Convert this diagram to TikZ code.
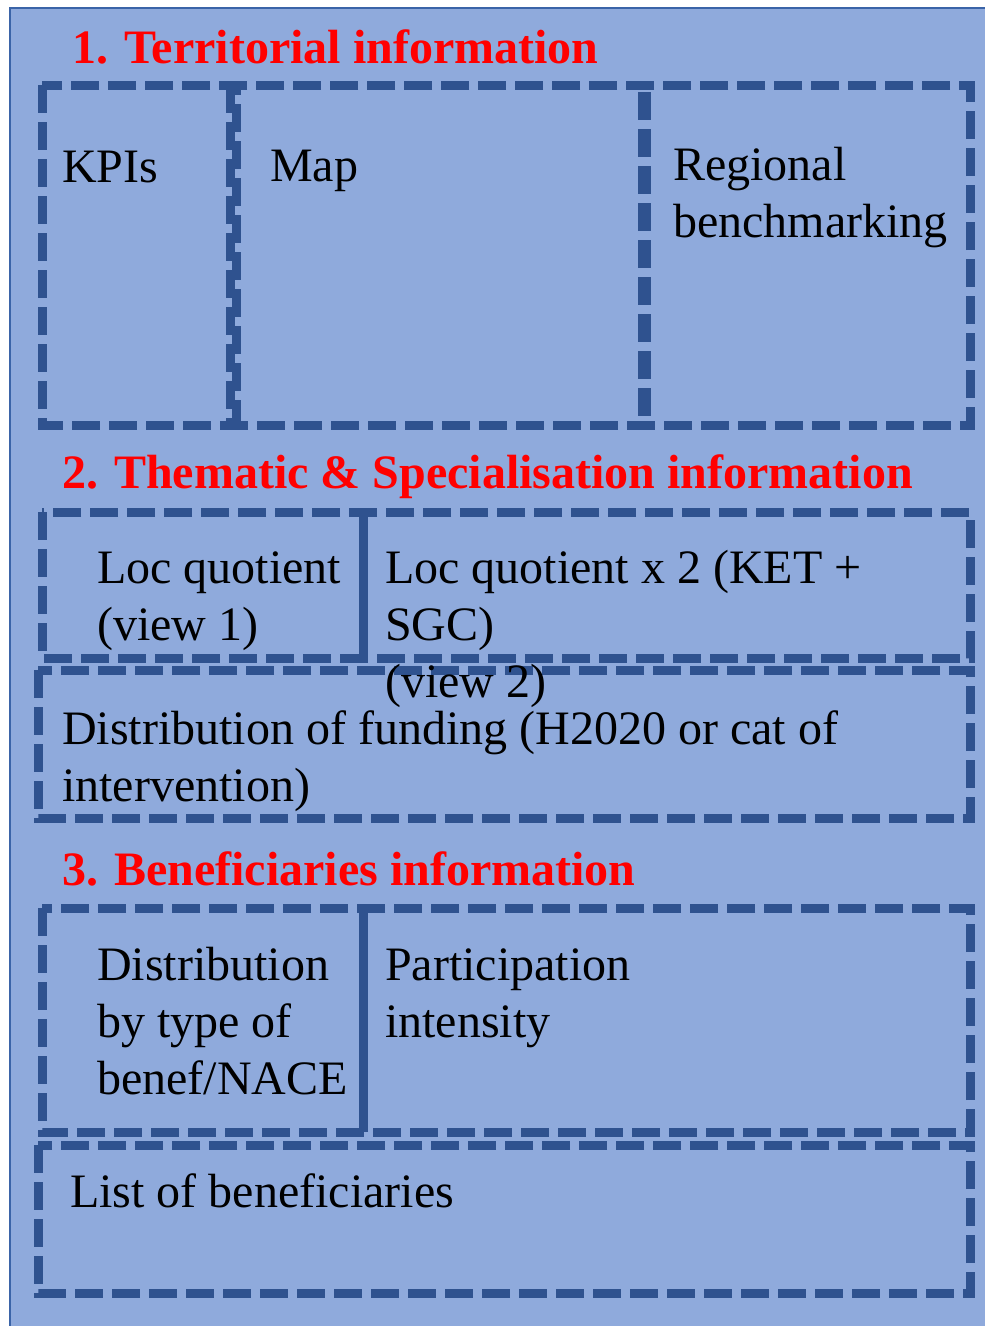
\documentclass[tikz,border=0pt]{standalone}
\usepackage{fontspec}
\setmainfont{Liberation Serif}
\usepackage{tikz}
\usetikzlibrary{positioning}
\definecolor{panel}{RGB}{143,170,220}
\definecolor{frame}{RGB}{59,100,168}
\definecolor{dashc}{RGB}{47,82,143}
\definecolor{headred}{RGB}{255,0,0}

\tikzset{
  heading/.style={font=\fontsize{48}{57}\selectfont\bfseries, text=headred, anchor=base west, inner sep=0pt},
  label/.style={font=\fontsize{48}{57}\selectfont, anchor=base west, align=left, inner sep=0pt},
  dashbox/.style={draw=dashc, line width=9pt, dash pattern=on 28pt off 9pt},
  divider/.style={draw=dashc, line width=9pt}
}

\begin{document}
\begin{tikzpicture}[x=1pt,y=-1pt]
\useasboundingbox (0,0) rectangle (985,1326);
\fill[panel, draw=frame, line width=2pt] (10,8) rectangle (1000,1340);

% dashed panels
\foreach \xa/\ya/\xb/\yb in {
  42/85/970/425, 42/512/970/658, 38/670/970/818,
  42/908/970/1132, 38/1145/970/1293} {
  \draw[dashbox] (\xa,\ya) rectangle (\xb,\yb);
}
% row dividers
\draw[dashbox] (230,85) -- (230,425);
\draw[dashbox, dash phase=18pt] (236,85) -- (236,425);
\draw[dashbox, line width=13pt] (644,92) -- (644,425);
\draw[divider] (363,512) -- (363,658);
\draw[divider] (363,908) -- (363,1132);

% section 1 (multi-line labels sit on their last line)
\node[heading] (terr) at (72,63) {1. Territorial information};
\node[label] (kpis) at (62,182) {KPIs};
\node[label] (map) at (270,181) {Map};
\node[label] (bench) at (673,237) {Regional\\benchmarking};

% section 2
\node[heading] (them) at (62,488) {2. Thematic \& Specialisation information};
\node[label] (locone) at (97,640) {Loc quotient\\(view 1)};
\node[label] (loctwo) at (385,697) {Loc quotient x 2 (KET +\\SGC)\\(view 2)};
\node[label] (fund) at (62,801) {Distribution of funding (H2020 or cat of\\intervention)};

% section 3
\node[heading] (benef) at (62,885) {3. Beneficiaries information};
\node[label] (bytype) at (97,1094) {Distribution\\by type of\\benef/NACE};
\node[label] (partic) at (385,1037) {Participation\\intensity};
\node[label] (list) at (70,1207) {List of beneficiaries};
\end{tikzpicture}
\end{document}
